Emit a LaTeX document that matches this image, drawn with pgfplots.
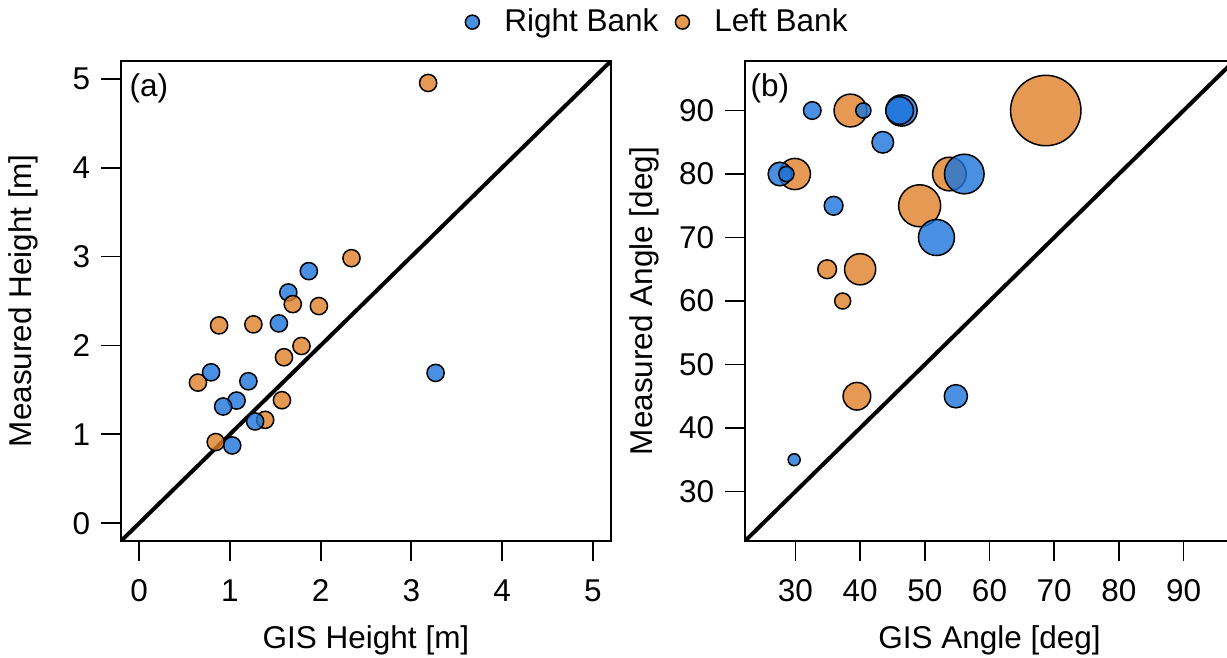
\documentclass[border=0pt]{standalone}
\usepackage{fontspec}
\setmainfont{Liberation Sans}
\usepackage{pgfplots}
\usepackage{pgfplotstable}
\pgfplotsset{compat=1.18}

\definecolor{rbblue}{RGB}{29,116,219}
\definecolor{lborange}{RGB}{224,128,39}

% panel (a): GIS vs measured bank height
\pgfplotstableread{
x y
1.644 2.596
}\heightRfirst
\pgfplotstableread{
x y
3.185 4.953
2.340 2.982
1.693 2.465
1.981 2.443
0.881 2.226
1.259 2.237
1.789 1.994
1.596 1.867
0.648 1.582
1.574 1.384
1.389 1.163
0.844 0.913
}\heightL
\pgfplotstableread{
x y
1.870 2.836
1.540 2.248
0.793 1.698
1.204 1.597
1.074 1.380
0.926 1.313
1.278 1.145
1.026 0.875
3.267 1.691
}\heightR

% panel (b): GIS vs measured bank angle, r = marker radius (pt)
\pgfplotstableread{
x y r
68.7 90 17.6
38.5 90 8.2
29.9 80 7.8
53.8 80 8.4
49.2 75 10.5
34.9 65 4.7
40.0 65 7.8
37.3 60 4.0
39.5 45 6.9
}\angleL
\pgfplotstableread{
x y r
32.6 90 4.4
40.5 90 3.8
46.4 90 7.8
46.1 90 6.9
43.5 85 5.4
27.6 80 5.9
28.6 80 3.8
56.1 80 9.9
35.9 75 4.7
51.8 70 9.0
54.8 45 5.8
29.8 35 3.0
}\angleR

\pgfplotsset{
  panel/.style={
    scale only axis, anchor=south west,
    height=240pt,
    tick align=outside, major tick length=10pt,
    xtick pos=bottom, ytick pos=left,
    axis line style={line width=0.9pt},
    every tick/.style={black, line width=0.9pt},
    /pgf/number format/assume math mode=true,
    xticklabel style={yshift=-4pt},
    xlabel style={at={(axis description cs:0.5,-0.206)}, anchor=center},
    every axis y label/.style={at={(axis description cs:-0.2,0.5)}, rotate=90, anchor=center},
  },
  dots/.style={only marks, mark=*, mark size=4.3pt,
    mark options={fill=#1, draw=black, line width=0.75pt, fill opacity=0.8}},
  bubbles/.style={scatter, only marks, mark=*,
    scatter/use mapped color={draw=black, fill=#1},
    mark options={line width=0.75pt, fill opacity=0.8},
    visualization depends on={\thisrow{r} \as \rad},
    scatter/@pre marker code/.append style={/tikz/mark size=\rad}},
}

\begin{document}
\fontsize{15.75}{18}\selectfont
\begin{tikzpicture}
\begin{axis}[panel,
  at={(60.5pt,-270.5pt)}, width=245pt,
  xmin=-0.2, xmax=5.2, ymin=-0.2, ymax=5.2,
  xtick={0,1,2,3,4,5}, ytick={0,1,2,3,4,5},
  xlabel={GIS Height [m]}, ylabel={Measured Height [m]},
  legend style={at={(axis description cs:0.702,1.081)}, anchor=west,
    draw=none, fill=none, legend columns=-1, inner sep=0pt,
    nodes={inner sep=0pt},
    /tikz/every odd column/.append style={column sep=12.5pt},
    /tikz/every even column/.append style={column sep=8.5pt}},
]
\addlegendimage{legend image code/.code={\draw[mark=*, mark size=3.5pt,
  mark options={fill=rbblue!80!white, draw=black, line width=0.75pt}] plot coordinates {(0pt,0pt)};}}
\addlegendentry{Right Bank}
\addlegendimage{legend image code/.code={\draw[mark=*, mark size=3.5pt,
  mark options={fill=lborange!80!white, draw=black, line width=0.75pt}] plot coordinates {(0pt,0pt)};}}
\addlegendentry{Left Bank}
\addplot[black, line width=2pt, forget plot] coordinates {(-0.2,-0.2) (5.2,5.2)};
\addplot[dots=rbblue, forget plot] table {\heightRfirst};
\addplot[dots=lborange, forget plot] table {\heightL};
\addplot[dots=rbblue, forget plot] table {\heightR};
\node[anchor=center, inner sep=0pt] at (axis description cs:0.057,0.944) {(a)};
\end{axis}

\begin{axis}[panel,
  at={(372.5pt,-270.5pt)}, width=244.5pt,
  xmin=22.2, xmax=97.8, ymin=22.2, ymax=97.8,
  xtick={30,40,...,90}, ytick={30,40,...,90},
  xlabel={GIS Angle [deg]}, ylabel={Measured Angle [deg]},
  every axis y label/.style={at={(axis description cs:-0.2065,0.5)}, rotate=90, anchor=center},
]
\addplot[black, line width=2pt] coordinates {(22.2,22.2) (97.8,97.8)};
\addplot[bubbles=lborange] table[x=x, y=y] {\angleL};
\addplot[bubbles=rbblue] table[x=x, y=y] {\angleR};
\node[anchor=center, inner sep=0pt] at (axis description cs:0.051,0.944) {(b)};
\end{axis}

\pgfresetboundingbox
\path[use as bounding box] (0pt,0pt) rectangle (613.5pt,-329pt);
\end{tikzpicture}
\end{document}
